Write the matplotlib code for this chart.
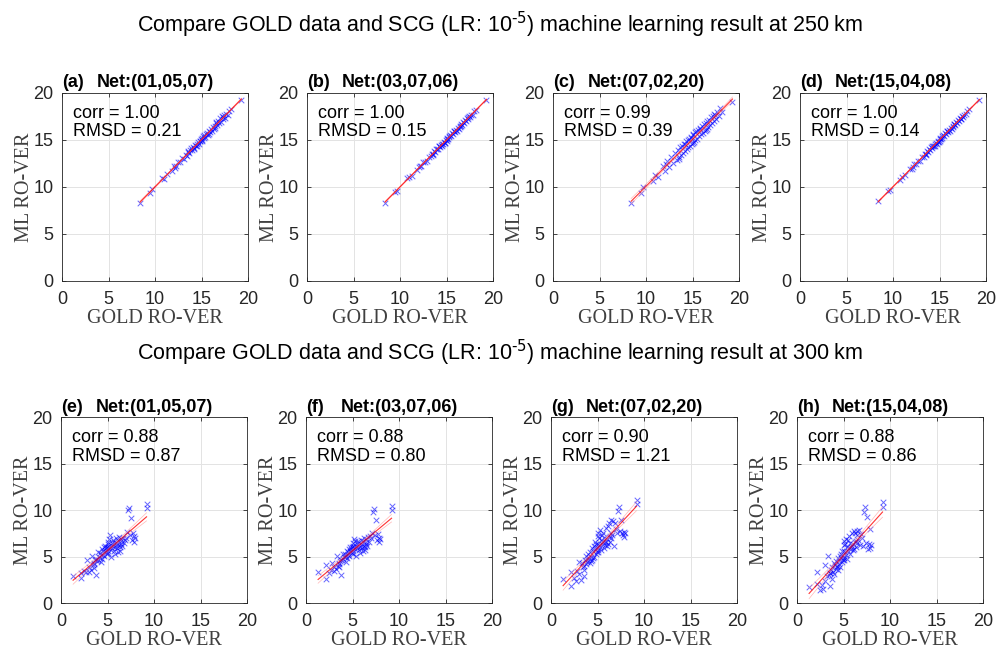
import numpy as np
import matplotlib
matplotlib.use('Agg')
import matplotlib.pyplot as plt

plt.rcParams['font.family'] = ['Liberation Sans', 'DejaVu Sans']
plt.rcParams['mathtext.default'] = 'regular'

# GOLD RO-VER values at 250 km (shared by panels a-d)
gold250 = [
    8.4, 9.5, 9.7, 10.8, 11.0, 11.3, 11.8, 12.0, 12.3, 12.5,
    12.7, 12.9, 13.1, 13.3, 13.4, 13.6, 13.7, 13.8, 13.9, 14.0,
    14.1, 14.2, 14.3, 14.4, 14.5, 14.5, 14.6, 14.7, 14.8, 14.9,
    15.0, 15.0, 15.1, 15.2, 15.3, 15.3, 15.4, 15.5, 15.6, 15.7,
    15.8, 15.9, 16.0, 16.1, 16.2, 16.3, 16.4, 16.5, 16.6, 16.7,
    16.8, 16.9, 17.0, 17.1, 17.2, 17.3, 17.4, 17.5, 17.6, 17.8,
    18.0, 18.2, 19.3, 14.2, 13.5, 15.8, 16.6, 17.3, 12.1, 14.8]

ml250_a = [
    8.3, 9.4, 9.8, 10.9, 10.8, 11.4, 11.7, 12.2, 12.2, 12.6,
    12.6, 13.1, 13.0, 13.4, 13.3, 13.8, 13.6, 13.9, 14.1, 13.9,
    14.2, 14.0, 14.5, 14.3, 14.6, 14.4, 14.8, 14.6, 14.9, 15.1,
    14.9, 15.2, 15.0, 15.4, 15.2, 15.5, 15.3, 15.6, 15.7, 15.5,
    16.0, 15.8, 16.2, 16.0, 16.4, 16.2, 16.5, 16.3, 16.9, 16.6,
    17.0, 16.8, 17.3, 16.9, 17.5, 17.2, 17.6, 17.3, 17.8, 17.6,
    18.1, 18.3, 19.2, 14.1, 13.7, 15.6, 16.8, 17.4, 12.0, 14.9]

ml250_b = [
    8.3, 9.5, 9.6, 10.9, 11.0, 11.2, 11.8, 12.1, 12.2, 12.6,
    12.7, 12.8, 13.2, 13.3, 13.5, 13.5, 13.8, 13.7, 14.0, 14.0,
    14.0, 14.3, 14.2, 14.5, 14.4, 14.6, 14.6, 14.8, 14.7, 15.0,
    15.1, 14.9, 15.2, 15.1, 15.4, 15.3, 15.5, 15.4, 15.7, 15.6,
    15.9, 15.8, 16.1, 16.0, 16.3, 16.2, 16.5, 16.4, 16.7, 16.6,
    16.9, 16.8, 17.1, 17.0, 17.3, 17.2, 17.5, 17.4, 17.7, 17.7,
    18.1, 18.2, 19.2, 14.3, 13.4, 15.9, 16.5, 17.4, 12.2, 14.7]

ml250_c = [
    8.3, 9.3, 10.0, 10.6, 11.3, 11.0, 12.2, 11.7, 12.8, 12.1,
    13.2, 12.5, 13.6, 12.9, 13.9, 13.2, 14.2, 13.4, 14.4, 13.6,
    14.6, 13.8, 14.9, 14.0, 15.0, 14.2, 15.1, 14.4, 15.3, 14.6,
    15.5, 14.7, 15.6, 14.8, 15.8, 15.0, 16.0, 15.1, 16.1, 15.4,
    16.2, 15.6, 16.5, 15.7, 16.7, 15.9, 16.8, 16.1, 17.0, 16.4,
    17.1, 16.6, 17.4, 16.8, 17.5, 17.0, 17.7, 17.2, 18.0, 17.5,
    18.4, 18.0, 19.0, 14.6, 13.0, 16.3, 16.2, 17.8, 12.4, 15.2]

ml250_d = [
    8.5, 9.6, 9.7, 10.7, 11.1, 11.3, 11.9, 11.9, 12.4, 12.4,
    12.8, 12.8, 13.2, 13.2, 13.5, 13.5, 13.8, 13.7, 14.0, 13.9,
    14.2, 14.1, 14.4, 14.3, 14.6, 14.4, 14.7, 14.6, 14.9, 14.8,
    15.1, 14.9, 15.2, 15.1, 15.4, 15.2, 15.5, 15.4, 15.7, 15.6,
    15.9, 15.8, 16.1, 16.0, 16.3, 16.2, 16.5, 16.4, 16.7, 16.6,
    16.9, 16.8, 17.1, 17.0, 17.3, 17.2, 17.5, 17.4, 17.7, 17.8,
    18.1, 18.3, 19.3, 14.3, 13.4, 15.9, 16.7, 17.2, 12.1, 14.8]

# GOLD RO-VER values at 300 km (shared by panels e-h)
gold300 = [
    1.3, 2.1, 2.2, 2.5, 2.7, 2.8, 3.0, 3.0, 3.2, 3.3,
    3.4, 3.5, 3.6, 3.7, 3.8, 3.8, 3.9, 4.0, 4.0, 4.1,
    4.2, 4.2, 4.3, 4.4, 4.4, 4.5, 4.5, 4.6, 4.6, 4.7,
    4.7, 4.8, 4.8, 4.9, 4.9, 5.0, 5.0, 5.0, 5.1, 5.1,
    5.2, 5.2, 5.3, 5.3, 5.4, 5.4, 5.5, 5.5, 5.6, 5.6,
    5.7, 5.7, 5.8, 5.9, 5.9, 6.0, 6.0, 6.1, 6.1, 6.2,
    6.2, 6.3, 6.4, 6.5, 6.5, 6.6, 6.7, 6.8, 6.9, 7.0,
    7.1, 7.2, 7.3, 7.4, 7.5, 7.6, 7.7, 7.8, 7.9, 8.0,
    5.8, 6.3, 4.3, 3.6, 9.2, 9.2]

ml300_e = [
    2.9, 2.7, 3.3, 3.5, 3.4, 4.6, 3.4, 3.9, 3.6, 5.1,
    4.1, 4.2, 3.8, 4.6, 3.0, 4.8, 4.5, 5.5, 4.7, 5.0,
    4.9, 5.4, 5.2, 4.8, 5.8, 5.2, 5.6, 6.0, 5.1, 5.7,
    6.2, 5.5, 5.9, 6.1, 5.3, 6.4, 5.6, 5.9, 6.6, 5.4,
    6.9, 6.1, 7.3, 5.8, 6.3, 5.0, 6.5, 5.9, 6.2, 6.8,
    5.6, 6.6, 6.0, 7.0, 6.3, 6.5, 5.9, 6.8, 5.5, 6.3,
    7.1, 6.1, 6.7, 6.4, 6.9, 6.2, 7.0, 6.5, 6.8, 7.0,
    7.7, 10.0, 10.2, 7.3, 9.2, 6.8, 7.6, 7.2, 6.6, 7.0,
    5.3, 5.6, 4.4, 4.3, 10.2, 10.7]

ml300_f = [
    3.4, 2.6, 4.1, 3.2, 3.6, 4.3, 3.5, 3.9, 3.7, 5.1,
    4.0, 4.3, 3.9, 4.5, 3.0, 4.7, 4.6, 5.3, 4.8, 5.0,
    5.0, 5.3, 5.1, 4.9, 5.6, 5.2, 5.5, 5.8, 5.1, 5.6,
    6.0, 5.5, 5.8, 6.0, 5.4, 6.2, 5.6, 5.9, 6.5, 5.3,
    6.9, 6.0, 6.7, 5.8, 6.2, 5.1, 6.4, 5.9, 6.1, 6.7,
    5.7, 6.5, 6.0, 6.8, 6.3, 6.4, 5.9, 6.7, 5.6, 6.2,
    7.0, 6.1, 6.6, 6.4, 6.9, 6.2, 7.1, 6.6, 7.2, 7.0,
    7.5, 9.8, 10.1, 7.3, 9.0, 6.8, 7.4, 7.0, 6.6, 6.9,
    5.4, 5.7, 4.4, 4.2, 10.0, 10.5]

ml300_g = [
    2.6, 1.9, 3.4, 2.7, 2.4, 3.5, 4.4, 3.1, 2.5, 4.3,
    3.9, 2.9, 4.0, 4.6, 4.2, 5.1, 4.4, 5.3, 4.6, 4.9,
    4.3, 5.5, 5.0, 4.7, 5.9, 4.9, 5.6, 6.2, 5.0, 5.8,
    6.6, 5.3, 6.4, 6.0, 5.5, 7.2, 5.7, 6.4, 7.6, 5.5,
    7.0, 6.3, 7.9, 6.0, 6.8, 5.7, 7.3, 6.4, 6.6, 7.6,
    5.9, 7.0, 6.3, 8.1, 6.6, 6.9, 6.2, 8.3, 6.4, 7.1,
    8.6, 6.6, 7.6, 7.0, 8.9, 7.3, 8.8, 6.2, 8.6, 8.0,
    7.5, 9.9, 10.4, 7.8, 9.0, 7.5, 7.3, 7.7, 7.1, 7.5,
    6.6, 7.2, 4.5, 3.6, 10.7, 11.1]

ml300_h = [
    1.7, 3.4, 2.1, 1.4, 2.0, 1.5, 4.1, 2.4, 2.9, 5.1,
    3.0, 1.8, 3.3, 3.6, 2.6, 3.9, 3.4, 4.3, 3.1, 4.1,
    3.7, 4.5, 4.0, 3.6, 4.9, 4.2, 4.5, 5.1, 3.9, 4.9,
    5.3, 4.4, 5.6, 5.0, 4.6, 6.7, 4.9, 5.6, 6.3, 4.6,
    6.4, 5.5, 6.9, 5.2, 6.0, 4.8, 6.8, 5.6, 5.9, 7.2,
    5.3, 6.5, 5.8, 7.6, 6.2, 6.4, 5.7, 7.8, 5.8, 6.6,
    7.5, 6.1, 7.8, 6.5, 7.3, 6.8, 7.9, 6.3, 7.4, 7.0,
    6.2, 9.8, 10.3, 6.5, 9.3, 5.8, 6.4, 8.0, 5.9, 6.3,
    6.1, 6.7, 3.9, 3.2, 10.4, 10.9]

letters = ['a', 'b', 'c', 'd', 'e', 'f', 'g', 'h']
nets = ['01,05,07', '03,07,06', '07,02,20', '15,04,08'] * 2
corr_vals = ['1.00', '1.00', '0.99', '1.00', '0.88', '0.88', '0.90', '0.88']
rmsd_vals = ['0.21', '0.15', '0.39', '0.14', '0.87', '0.80', '1.21', '0.86']
heights = ['250', '300']

xs = [gold250] * 4 + [gold300] * 4
ys = [ml250_a, ml250_b, ml250_c, ml250_d, ml300_e, ml300_f, ml300_g, ml300_h]

fig = plt.figure(figsize=(10, 6.5), dpi=100)

lefts_top = [0.062, 0.307, 0.553, 0.800]
lefts_bot = [0.061, 0.306, 0.551, 0.797]

for i in range(8):
    if i < 4:
        ax = fig.add_axes([lefts_top[i], 0.568, 0.186, 0.289])
    else:
        ax = fig.add_axes([lefts_bot[i - 4], 0.072, 0.186, 0.286])
    x = np.array(xs[i])
    y = np.array(ys[i])

    # linear fit with a narrow confidence band
    p = np.polyfit(x, y, 1)
    xf = np.linspace(x.min(), x.max(), 50)
    yf = np.polyval(p, xf)
    resid = y - np.polyval(p, x)
    s = np.sqrt(np.sum(resid ** 2) / (len(x) - 2))
    se = 2.0 * s * np.sqrt(1.0 / len(x) + (xf - x.mean()) ** 2 / np.sum((x - x.mean()) ** 2))

    ax.scatter(x, y, marker='x', s=16, color='blue', linewidths=0.7, alpha=0.6, zorder=3)
    ax.plot(xf, yf + se, color='#ff9999', lw=0.5, alpha=0.7, zorder=4)
    ax.plot(xf, yf - se, color='#ff9999', lw=0.5, alpha=0.7, zorder=4)
    ax.plot(xf, yf, color='red', lw=0.8, alpha=0.8, zorder=4)

    ax.set_xlim(0, 20)
    ax.set_ylim(0, 20)
    ax.set_xticks([0, 5, 10, 15, 20])
    ax.set_yticks([0, 5, 10, 15, 20])
    ax.grid(True, color='#e3e3e3', lw=0.7)
    ax.set_axisbelow(True)
    ax.tick_params(direction='in', length=3, width=0.6, labelsize=13,
                   colors='#262626', top=True, right=True)
    ax.tick_params(axis='x', pad=7)
    ax.tick_params(axis='y', pad=6)
    for sp in ax.spines.values():
        sp.set_color('#262626')
        sp.set_linewidth(0.6)

    ax.set_xlabel('GOLD RO-VER', family='Liberation Serif', fontsize=14.5,
                  color='#404040', labelpad=1)
    ax.set_ylabel('ML RO-VER', family='Liberation Serif', fontsize=14.5,
                  color='#404040', labelpad=0)
    ax.text(0.5, 1.053, 'Net:(%s)' % nets[i], transform=ax.transAxes,
            ha='center', va='center', fontsize=13, fontweight='bold')
    ax.text(0.0, 1.053, '(%s)' % letters[i], transform=ax.transAxes,
            ha='left', va='center', fontsize=13, fontweight='bold')
    ax.text(0.06, 0.935, 'corr = %s\nRMSD = %s' % (corr_vals[i], rmsd_vals[i]),
            transform=ax.transAxes, ha='left', va='top', fontsize=13,
            linespacing=1.1)

title_fmt = r'Compare GOLD data and SCG (LR: 10$^{\text{-5}}$) machine learning result at %s km'
fig.text(0.5, 0.962, title_fmt % heights[0], ha='center', va='center', fontsize=15.5)
fig.text(0.5, 0.457, title_fmt % heights[1], ha='center', va='center', fontsize=15.5)

fig.savefig('out.png', dpi=100)
